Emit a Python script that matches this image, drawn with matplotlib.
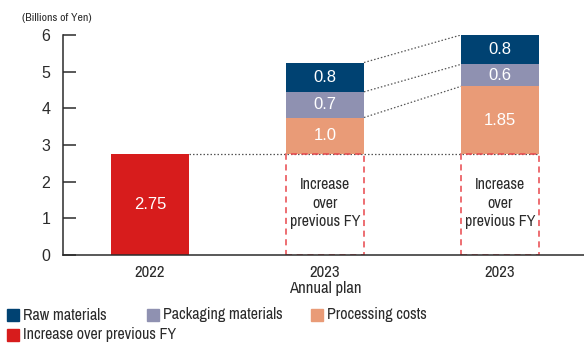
import matplotlib
matplotlib.use("Agg")
import matplotlib.pyplot as plt
from matplotlib.patches import Rectangle
from matplotlib import font_manager as fm

names = {f.name for f in fm.fontManager.ttflist}
COND = "Liberation Sans"
for cand in ["Liberation Sans Narrow", "Archivo Narrow", "Roboto Condensed", "PT Sans Narrow", "Pragati Narrow", "Arimo"]:
    if cand in names:
        COND = cand
        break
REG = "Liberation Sans"

categories = ["2022", "2023\nAnnual plan", "2023"]
base_2022 = 2.75
processing = [1.0, 1.85]
packaging = [0.7, 0.6]
raw = [0.8, 0.8]
processing_labels = ["1.0", "1.85"]
packaging_labels = ["0.7", "0.6"]
raw_labels = ["0.8", "0.8"]
yticks = [0, 1, 2, 3, 4, 5, 6]

C_RAW = "#004272"
C_PACK = "#8f91b1"
C_PROC = "#e99b77"
C_RED = "#d71c1c"
C_DASH = "#e8474c"
C_TXT = "#2b2b2b"

fig = plt.figure(figsize=(5.84, 3.44), dpi=100)
ax = fig.add_axes([63/584, (344-255)/344, (584-63)/584, 220/344])
W = 0.446
ax.set_xlim(-0.497, 2.48)
ax.set_ylim(0, 6)

# 2022 bar
ax.bar(0, base_2022, width=W, color=C_RED, zorder=2)
ax.text(0, base_2022/2, f"{base_2022:.2f}", color="white", ha="center", va="center",
        fontsize=12, family=REG)

# 2023 stacked
xs = [1, 2]
bot = [base_2022]*2
ax.bar(xs, processing, width=W, bottom=bot, color=C_PROC, zorder=2)
b2 = [b + p for b, p in zip(bot, processing)]
ax.bar(xs, packaging, width=W, bottom=b2, color=C_PACK, zorder=2)
b3 = [b + p for b, p in zip(b2, packaging)]
ax.bar(xs, raw, width=W, bottom=b3, color=C_RAW, zorder=2)
tops = [b + r for b, r in zip(b3, raw)]
for i, x in enumerate(xs):
    ax.text(x, bot[i] + processing[i]/2, processing_labels[i], color="white", ha="center", va="center", fontsize=12, family=REG, zorder=3)
    ax.text(x, b2[i] + packaging[i]/2, packaging_labels[i], color="white", ha="center", va="center", fontsize=12, family=REG, zorder=3)
    ax.text(x, b3[i] + raw[i]/2, raw_labels[i], color="white", ha="center", va="center", fontsize=12, family=REG, zorder=3)
    # dashed increase box
    ax.add_patch(Rectangle((x - W/2, 0), W, base_2022, fill=False, edgecolor=C_DASH,
                           linestyle=(0, (4, 3)), linewidth=1.1, zorder=2))
    ax.text(x, base_2022*0.5 + 0.04, "Increase\nover\nprevious FY", ha="center", va="center",
            fontsize=11.5, family=COND, color=C_TXT, linespacing=1.28)

# dotted connectors
dot = dict(color="#555555", linestyle=(0, (1.2, 1.6)), linewidth=0.9, zorder=1)
ax.plot([0 + W/2, 2 + W/2], [base_2022, base_2022], **dot)
for a, b in [(b2[0], b2[1]), (b3[0], b3[1]), (tops[0], tops[1])]:
    ax.plot([1 + W/2, 2 - W/2], [a, b], **dot)

# axes styling
for s in ["top", "right"]:
    ax.spines[s].set_visible(False)
for s in ["left", "bottom"]:
    ax.spines[s].set_color(C_TXT)
    ax.spines[s].set_linewidth(1.1)
ax.spines["left"].set_bounds(0, 6)
ax.set_yticks(yticks)
ax.set_yticklabels([str(t) for t in yticks], fontsize=11.5, family=REG, color=C_TXT)
ax.tick_params(axis="y", direction="in", length=9.5, width=1.1, color=C_TXT, pad=9)
ax.set_xticks([0, 1, 2])
ax.set_xticklabels(categories, fontsize=12, family=COND, color=C_TXT, linespacing=1.1)
ax.tick_params(axis="x", length=0, pad=7)

fig.text(22/584, 1 - 18/344, "(Billions of Yen)", fontsize=8.5, family=COND, color=C_TXT, va="center", ha="left")

# legend
legend_items = [("Raw materials", C_RAW, 7, 315), ("Packaging materials", C_PACK, 147, 315),
                ("Processing costs", C_PROC, 311, 315), ("Increase over previous FY", C_RED, 7, 335)]
for label, col, px, py in legend_items:
    fig.patches.append(Rectangle((px/584, 1 - (py + 6)/344), 12/584, 12/344, color=col,
                                 transform=fig.transFigure, figure=fig))
    fig.text((px + 16)/584, 1 - py/344, label, fontsize=11.5, family=COND, color=C_TXT, va="center", ha="left")

fig.savefig("out.png", dpi=100)
